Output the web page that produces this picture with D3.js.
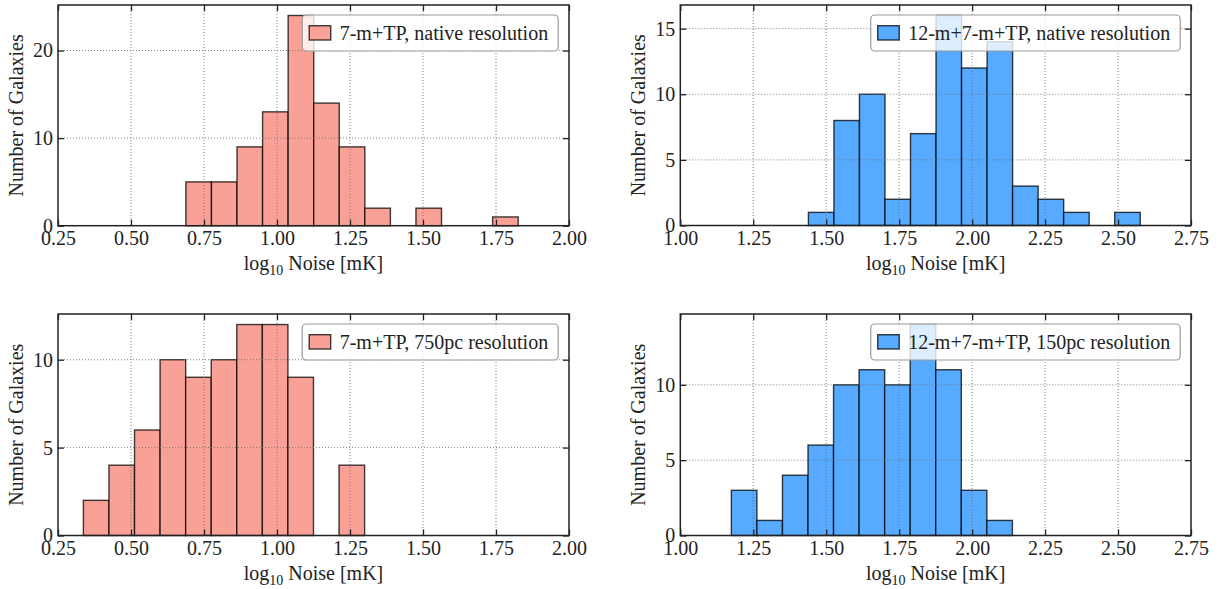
<!DOCTYPE html>
<html>
<head>
<meta charset="utf-8">
<script src="https://cdn.jsdelivr.net/npm/d3@7"></script>
<style>
  html, body { margin: 0; padding: 0; background: #fff; }
  svg { display: block; }
  text { font-family: "Liberation Serif", "Times New Roman", serif; fill: #222; }
</style>
</head>
<body>
<svg id="chart" width="1222" height="589"></svg>
<script>
// ---- data ----
const nativeTP7Counts   = [5, 5, 9, 13, 24, 14, 9, 2, 0, 2, 0, 0, 1];
const nativeTP7Range    = [0.688, 1.826];
const nativeAll12Counts = [1, 8, 10, 2, 7, 16, 12, 14, 3, 2, 1, 0, 1];
const nativeAll12Range  = [1.439, 2.576];
const res750TP7Counts   = [2, 4, 6, 10, 9, 10, 12, 12, 9, 0, 4];
const res750TP7Range    = [0.337, 1.300];
const res150All12Counts = [3, 1, 4, 6, 10, 11, 10, 14, 11, 3, 1];
const res150All12Range  = [1.175, 2.138];

const xTicksTP7   = [0.25, 0.50, 0.75, 1.00, 1.25, 1.50, 1.75, 2.00];
const xTicksAll12 = [1.00, 1.25, 1.50, 1.75, 2.00, 2.25, 2.50, 2.75];
const yTicksNativeTP7   = [0, 10, 20];
const yTicksNativeAll12 = [0, 5, 10, 15];
const yTicksRes750TP7   = [0, 5, 10];
const yTicksRes150All12 = [0, 5, 10];

const legendLabels = [
  "7-m+TP, native resolution",
  "12-m+7-m+TP, native resolution",
  "7-m+TP, 750pc resolution",
  "12-m+7-m+TP, 150pc resolution"
];
const yLabel = "Number of Galaxies";

// ---- styling / layout ----
const SALMON = "#f9a196";
const BLUE = "#56aaff";
const FS = 20;

const panels = [
  { counts: nativeTP7Counts, range: nativeTP7Range, xTicks: xTicksTP7, yTicks: yTicksNativeTP7,
    color: SALMON, label: legendLabels[0], x0: 58, x1: 569, y0: 5, y1: 225.7 },
  { counts: nativeAll12Counts, range: nativeAll12Range, xTicks: xTicksAll12, yTicks: yTicksNativeAll12,
    color: BLUE, label: legendLabels[1], x0: 680.3, x1: 1191, y0: 5, y1: 225.5 },
  { counts: res750TP7Counts, range: res750TP7Range, xTicks: xTicksTP7, yTicks: yTicksRes750TP7,
    color: SALMON, label: legendLabels[2], x0: 58, x1: 569, y0: 314, y1: 535.5 },
  { counts: res150All12Counts, range: res150All12Range, xTicks: xTicksAll12, yTicks: yTicksRes150All12,
    color: BLUE, label: legendLabels[3], x0: 680.3, x1: 1191, y0: 314, y1: 535.5 }
];

const svg = d3.select("#chart");

panels.forEach(p => {
  const xs = d3.scaleLinear().domain([p.xTicks[0], p.xTicks[p.xTicks.length - 1]]).range([p.x0, p.x1]);
  const ymax = d3.max(p.counts) * 1.05;
  const ys = d3.scaleLinear().domain([0, ymax]).range([p.y1, p.y0]);
  const n = p.counts.length;
  const w = (p.range[1] - p.range[0]) / n;
  const bins = p.counts.map((c, i) => ({ a: p.range[0] + i * w, b: p.range[0] + (i + 1) * w, c }));

  const g = svg.append("g");

  // bars
  g.selectAll("rect.bar").data(bins.filter(d => d.c > 0)).enter().append("rect")
    .attr("class", "bar")
    .attr("x", d => xs(d.a))
    .attr("width", d => xs(d.b) - xs(d.a))
    .attr("y", d => ys(d.c))
    .attr("height", d => ys(0) - ys(d.c))
    .attr("fill", p.color)
    .attr("stroke", "#000")
    .attr("stroke-opacity", 0.75)
    .attr("stroke-width", 1.4);

  // grid (dotted, drawn over bars)
  const grid = g.append("g").attr("stroke", "#6f6f6f").attr("stroke-width", 1).attr("stroke-dasharray", "1,2").attr("opacity", 0.85);
  p.xTicks.slice(1, -1).forEach(t => {
    grid.append("line").attr("x1", xs(t)).attr("x2", xs(t)).attr("y1", p.y0).attr("y2", p.y1);
  });
  p.yTicks.filter(t => t > 0).forEach(t => {
    grid.append("line").attr("x1", p.x0).attr("x2", p.x1).attr("y1", ys(t)).attr("y2", ys(t));
  });

  // axes using d3 axis (inward ticks)
  const tl = 6;
  const xb = d3.axisBottom(xs).tickValues(p.xTicks).tickFormat(d3.format(".2f")).tickSizeInner(-tl).tickSizeOuter(0).tickPadding(5);
  const xt = d3.axisTop(xs).tickValues(p.xTicks).tickFormat("").tickSizeInner(-tl).tickSizeOuter(0);
  const yl = d3.axisLeft(ys).tickValues(p.yTicks).tickFormat(d3.format("d")).tickSizeInner(-tl).tickSizeOuter(0).tickPadding(5);
  const yr = d3.axisRight(ys).tickValues(p.yTicks).tickFormat("").tickSizeInner(-tl).tickSizeOuter(0);

  const styleAxis = sel => {
    sel.select(".domain").remove();
    sel.selectAll(".tick line").attr("stroke", "#222").attr("stroke-width", 1.3);
    sel.selectAll(".tick text").style("font-family", '"Liberation Serif", serif').style("font-size", FS + "px").attr("fill", "#222");
  };
  g.append("g").attr("transform", `translate(0,${p.y1})`).call(xb).call(styleAxis);
  g.append("g").attr("transform", `translate(0,${p.y0})`).call(xt).call(styleAxis);
  g.append("g").attr("transform", `translate(${p.x0},0)`).call(yl).call(styleAxis);
  g.append("g").attr("transform", `translate(${p.x1},0)`).call(yr).call(styleAxis);

  // frame
  g.append("rect").attr("x", p.x0).attr("y", p.y0).attr("width", p.x1 - p.x0).attr("height", p.y1 - p.y0)
    .attr("fill", "none").attr("stroke", "#222").attr("stroke-width", 1.5);

  // x label
  const xl = g.append("text").attr("x", (p.x0 + p.x1) / 2).attr("y", p.y1 + 44)
    .attr("text-anchor", "middle").style("font-size", FS + "px");
  xl.append("tspan").text("log");
  xl.append("tspan").text("10").style("font-size", "14px").attr("dy", 5);
  xl.append("tspan").text(" Noise [mK]").attr("dy", -5);

  // y label
  g.append("text")
    .attr("transform", `translate(${p.x0 - 35},${(p.y0 + p.y1) / 2}) rotate(-90)`)
    .attr("text-anchor", "middle").style("font-size", FS + "px")
    .text(yLabel);

  // legend
  const lg = g.append("g");
  const lt = lg.append("text").style("font-size", FS + "px").text(p.label);
  const tw = lt.node().getComputedTextLength();
  const bh = 36;
  const bw = 7 + 21.5 + 9 + tw + 10;
  const bx = p.x1 - 10.8 - bw;
  const by = p.y0 + 10;
  lg.insert("rect", "text").attr("x", bx).attr("y", by).attr("width", bw).attr("height", bh)
    .attr("rx", 4).attr("ry", 4)
    .attr("fill", "#fff").attr("fill-opacity", 0.8)
    .attr("stroke", "#999").attr("stroke-width", 1.2);
  lg.insert("rect", "text").attr("x", bx + 7).attr("y", by + 10.7).attr("width", 21.5).attr("height", 14.3)
    .attr("fill", p.color).attr("stroke", "#000").attr("stroke-opacity", 0.75).attr("stroke-width", 1.4);
  lt.attr("x", bx + 7 + 21.5 + 9).attr("y", by + 24.5);
});
</script>
</body>
</html>
